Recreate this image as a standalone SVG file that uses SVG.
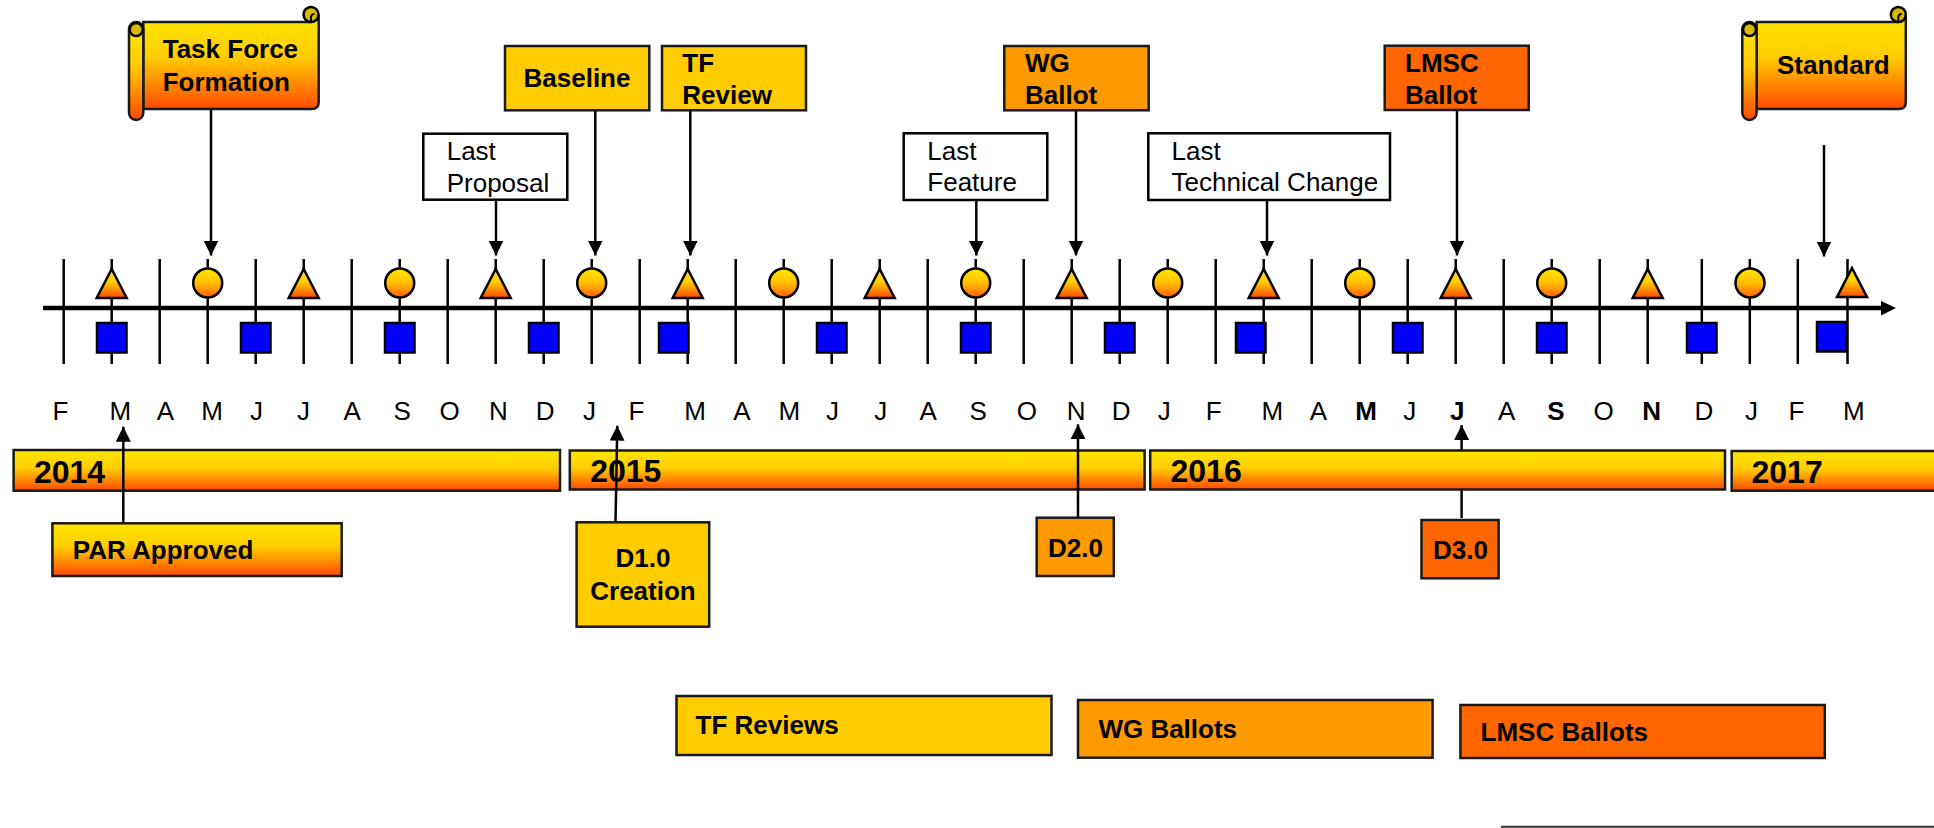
<svg xmlns="http://www.w3.org/2000/svg" xmlns:xlink="http://www.w3.org/1999/xlink" width="1934" height="828" viewBox="0 0 1934 828">
<defs>
<linearGradient id="gy" x1="0" y1="0" x2="0" y2="1">
<stop offset="0" stop-color="#FFE800"/>
<stop offset="0.45" stop-color="#FFCC00"/>
<stop offset="1" stop-color="#FF4A00"/>
</linearGradient>
<linearGradient id="gc" x1="0" y1="0" x2="0" y2="1">
<stop offset="0" stop-color="#FFE800"/>
<stop offset="0.5" stop-color="#FFC000"/>
<stop offset="1" stop-color="#FF5A00"/>
</linearGradient>
<marker id="ah" markerUnits="userSpaceOnUse" markerWidth="16" markerHeight="16" refX="15" refY="7.5" orient="auto">
<path d="M0,0 L15,7.5 L0,15 Z" fill="#000"/>
</marker>
<polygon id="tri" points="0,-14.5 15,14.5 -15,14.5" fill="url(#gy)" stroke="#000" stroke-width="2.5" stroke-linejoin="miter"/>
<circle id="cir" r="14.5" fill="url(#gc)" stroke="#000" stroke-width="2.5"/>
<rect id="sq" width="29.5" height="29.5" fill="#0000FF" stroke="#000" stroke-width="2.5"/>
</defs>
<style>
.t{font-family:"Liberation Sans",Arial,Helvetica,sans-serif;font-size:26px;fill:#000}
.b{font-weight:bold}
.yr{font-size:32px;font-weight:bold}
.box{stroke:#1a1a1a;stroke-width:2.5}
.wbox{fill:#fff;stroke:#000;stroke-width:2.5}
.c1{fill:#FFCC00}
.c2{fill:#FF9900}
.c3{fill:#FF6600}
.conn{stroke:#000;stroke-width:2.5;fill:none}
.tick{stroke:#000;stroke-width:2.5;fill:none}
.curl{fill:#D8B800;stroke:#000;stroke-width:2.5}
</style>
<rect width="1934" height="828" fill="#fff"/>

<!-- timeline axis and ticks -->
<g id="axis">
<path class="tick" d="M63.7 259V364M111.7 259V364M159.7 259V364M207.7 259V364M255.7 259V364M303.7 259V364M351.7 259V364M399.7 259V364M447.7 259V364M495.7 259V364M543.7 259V364M591.7 259V364M639.7 259V364M687.7 259V364M735.7 259V364M783.7 259V364M831.7 259V364M879.7 259V364M927.7 259V364M975.7 259V364M1023.7 259V364M1071.7 259V364M1119.7 259V364M1167.7 259V364M1215.7 259V364M1263.7 259V364M1311.7 259V364M1359.7 259V364M1407.7 259V364M1455.7 259V364M1503.7 259V364M1551.7 259V364M1599.7 259V364M1647.7 259V364M1701.8 259V364M1749.8 259V364M1797.8 259V364M1847.5 259V364"/>
<line x1="43" y1="308" x2="1882" y2="308" stroke="#000" stroke-width="4.5"/>
<polygon points="1881,301 1896,308 1881,315.5" fill="#000"/>
</g>

<g id="markers">
<use xlink:href="#tri" href="#tri" x="111.7" y="283.5"/>
<use xlink:href="#tri" href="#tri" x="303.7" y="283.5"/>
<use xlink:href="#tri" href="#tri" x="495.7" y="283.5"/>
<use xlink:href="#tri" href="#tri" x="687.7" y="283.5"/>
<use xlink:href="#tri" href="#tri" x="879.7" y="283.5"/>
<use xlink:href="#tri" href="#tri" x="1071.7" y="283.5"/>
<use xlink:href="#tri" href="#tri" x="1263.7" y="283.5"/>
<use xlink:href="#tri" href="#tri" x="1455.7" y="283.5"/>
<use xlink:href="#tri" href="#tri" x="1647.7" y="283.5"/>
<use xlink:href="#tri" href="#tri" x="1852" y="282.5"/>
<use xlink:href="#cir" href="#cir" x="207.7" y="283"/>
<use xlink:href="#cir" href="#cir" x="399.7" y="283"/>
<use xlink:href="#cir" href="#cir" x="591.7" y="283"/>
<use xlink:href="#cir" href="#cir" x="783.7" y="283"/>
<use xlink:href="#cir" href="#cir" x="975.7" y="283"/>
<use xlink:href="#cir" href="#cir" x="1167.7" y="283"/>
<use xlink:href="#cir" href="#cir" x="1359.7" y="283"/>
<use xlink:href="#cir" href="#cir" x="1551.7" y="283"/>
<use xlink:href="#cir" href="#cir" x="1750" y="283"/>
<use xlink:href="#sq" href="#sq" x="97" y="323"/>
<use xlink:href="#sq" href="#sq" x="241" y="323"/>
<use xlink:href="#sq" href="#sq" x="385" y="323"/>
<use xlink:href="#sq" href="#sq" x="529" y="323"/>
<use xlink:href="#sq" href="#sq" x="659" y="323"/>
<use xlink:href="#sq" href="#sq" x="817" y="323"/>
<use xlink:href="#sq" href="#sq" x="961" y="323"/>
<use xlink:href="#sq" href="#sq" x="1105" y="323"/>
<use xlink:href="#sq" href="#sq" x="1236" y="323"/>
<use xlink:href="#sq" href="#sq" x="1393" y="323"/>
<use xlink:href="#sq" href="#sq" x="1537" y="323"/>
<use xlink:href="#sq" href="#sq" x="1687" y="323"/>
<use xlink:href="#sq" href="#sq" x="1817" y="322"/>
</g>

<g id="months" class="t" text-anchor="middle">
<text x="60.4" y="420">F</text>
<text x="120.3" y="420">M</text>
<text x="165.3" y="420">A</text>
<text x="212.2" y="420">M</text>
<text x="256.6" y="420">J</text>
<text x="303.4" y="420">J</text>
<text x="352.1" y="420">A</text>
<text x="402.1" y="420">S</text>
<text x="449.6" y="420">O</text>
<text x="498.3" y="420">N</text>
<text x="545.2" y="420">D</text>
<text x="589.6" y="420">J</text>
<text x="636.4" y="420">F</text>
<text x="695" y="420">M</text>
<text x="741.9" y="420">A</text>
<text x="789.4" y="420">M</text>
<text x="832.6" y="420">J</text>
<text x="880.7" y="420">J</text>
<text x="928.2" y="420">A</text>
<text x="978.1" y="420">S</text>
<text x="1026.8" y="420">O</text>
<text x="1076.2" y="420">N</text>
<text x="1121.2" y="420">D</text>
<text x="1164.3" y="420">J</text>
<text x="1213.7" y="420">F</text>
<text x="1272.3" y="420">M</text>
<text x="1318.5" y="420">A</text>
<text x="1366" y="420" class="b">M</text>
<text x="1409.8" y="420">J</text>
<text x="1457.3" y="420" class="b">J</text>
<text x="1506.6" y="420">A</text>
<text x="1556" y="420" class="b">S</text>
<text x="1603.5" y="420">O</text>
<text x="1651.6" y="420" class="b">N</text>
<text x="1704" y="420">D</text>
<text x="1751.5" y="420">J</text>
<text x="1796.5" y="420">F</text>
<text x="1853.8" y="420">M</text>
</g>

<!-- connector behind 2016 bar -->
<g id="connectors">
<line class="conn" x1="211" y1="109" x2="211" y2="255.5" marker-end="url(#ah)"/>
<line class="conn" x1="496" y1="200" x2="496" y2="255.5" marker-end="url(#ah)"/>
<line class="conn" x1="595.3" y1="110" x2="595.3" y2="255.5" marker-end="url(#ah)"/>
<line class="conn" x1="690.3" y1="110" x2="690.3" y2="255.5" marker-end="url(#ah)"/>
<line class="conn" x1="976.3" y1="200" x2="976.3" y2="255.5" marker-end="url(#ah)"/>
<line class="conn" x1="1076" y1="110" x2="1076" y2="255.5" marker-end="url(#ah)"/>
<line class="conn" x1="1267" y1="200" x2="1267" y2="255.5" marker-end="url(#ah)"/>
<line class="conn" x1="1457" y1="110" x2="1457" y2="255.5" marker-end="url(#ah)"/>
<line class="conn" x1="1824" y1="145" x2="1824" y2="256.5" marker-end="url(#ah)"/>
<line class="conn" x1="1461.6" y1="518" x2="1461.6" y2="425" marker-end="url(#ah)"/>
</g>

<g id="year2014">
<rect class="box" x="13.6" y="450" width="546.4" height="40.7" fill="url(#gy)"/>
<text class="t yr" x="33.9" y="482.7">2014</text>
</g>
<g id="year2015">
<rect class="box" x="569.8" y="450.5" width="574.8" height="39" fill="url(#gy)"/>
<text class="t yr" x="590.2" y="482.3">2015</text>
</g>
<g id="year2016">
<rect class="box" x="1150.2" y="450.5" width="574.8" height="39" fill="url(#gy)"/>
<text class="t yr" x="1170.5" y="482.3">2016</text>
</g>
<g id="year2017">
<rect class="box" x="1731.7" y="451" width="206" height="39.7" fill="url(#gy)"/>
<text class="t yr" x="1751.5" y="483">2017</text>
</g>

<g id="connectors-over">
<line class="conn" x1="123.3" y1="528" x2="123.3" y2="426.7" marker-end="url(#ah)"/>
<line class="conn" x1="615.5" y1="522" x2="617.3" y2="425.7" marker-end="url(#ah)"/>
<line class="conn" x1="1078" y1="518" x2="1078" y2="424.3" marker-end="url(#ah)"/>
</g>

<g id="taskforce">
<path class="box" fill="url(#gy)" d="M143.3,22 L311,22 A7.5,7.5 0 0 0 318.7,14.5 L318.7,102 Q318.7,109 311.7,109 L143.3,109 Z"/>
<circle class="curl" cx="311" cy="14.5" r="7.5"/>
<path d="M311,22 L311,17 A3,3 0 0 1 314.5,14" fill="none" stroke="#000" stroke-width="2"/>
<rect class="box" x="129" y="22" width="14.3" height="98" rx="7.15" fill="url(#gy)"/>
<circle class="curl" cx="136.2" cy="29.5" r="6.5"/>
<path d="M136.2,36 L139,36" fill="none" stroke="#000" stroke-width="2"/>
<text class="t b" x="162.7" y="58">Task Force</text>
<text class="t b" x="162.7" y="90.7">Formation</text>
</g>

<g id="standard">
<path class="box" fill="url(#gy)" d="M1756.6,22 L1898.3,22 A7.5,7.5 0 0 0 1905.8,14.5 L1905.8,102 Q1905.8,109 1898.8,109 L1756.6,109 Z"/>
<circle class="curl" cx="1898.3" cy="14.5" r="7.5"/>
<path d="M1898.3,22 L1898.3,17 A3,3 0 0 1 1901.8,14" fill="none" stroke="#000" stroke-width="2"/>
<rect class="box" x="1742.3" y="22" width="14.3" height="98" rx="7.15" fill="url(#gy)"/>
<circle class="curl" cx="1749.5" cy="29.5" r="6.5"/>
<path d="M1749.5,36 L1752.3,36" fill="none" stroke="#000" stroke-width="2"/>
<text class="t b" x="1777" y="74">Standard</text>
</g>

<g id="baseline">
<rect class="box c1" x="505" y="46" width="144.3" height="64.3"/>
<text class="t b" x="577" y="87.3" text-anchor="middle">Baseline</text>
</g>
<g id="tfreview">
<rect class="box c1" x="662" y="46" width="144" height="64.3"/>
<text class="t b" x="682.3" y="72.3">TF</text>
<text class="t b" x="682.3" y="104">Review</text>
</g>
<g id="wgballot">
<rect class="box c2" x="1004.3" y="46" width="144.4" height="64.3"/>
<text class="t b" x="1025" y="72.3">WG</text>
<text class="t b" x="1025" y="104">Ballot</text>
</g>
<g id="lmscballot">
<rect class="box c3" x="1384.7" y="45.7" width="144" height="64.3"/>
<text class="t b" x="1405" y="72.3">LMSC</text>
<text class="t b" x="1405" y="103.5">Ballot</text>
</g>

<g id="lastproposal">
<rect class="wbox" x="423.3" y="133.7" width="144" height="66"/>
<text class="t" x="446.7" y="160">Last</text>
<text class="t" x="446.7" y="191.7">Proposal</text>
</g>
<g id="lastfeature">
<rect class="wbox" x="903.7" y="133.3" width="143.6" height="66.7"/>
<text class="t" x="927.3" y="159.5">Last</text>
<text class="t" x="927.3" y="191">Feature</text>
</g>
<g id="lasttech">
<rect class="wbox" x="1148.3" y="133.3" width="241.7" height="66.7"/>
<text class="t" x="1171.5" y="159.5">Last</text>
<text class="t" x="1171.5" y="191">Technical Change</text>
</g>

<g id="parapproved">
<rect class="box" x="52.4" y="523.3" width="289.3" height="52.7" fill="url(#gy)"/>
<text class="t b" x="72.8" y="558.7">PAR Approved</text>
</g>
<g id="d10">
<rect class="box c1" x="576.6" y="522.3" width="132.6" height="104.4"/>
<text class="t b" x="643" y="567.3" text-anchor="middle">D1.0</text>
<text class="t b" x="643" y="600" text-anchor="middle">Creation</text>
</g>
<g id="d20">
<rect class="box c2" x="1036.7" y="517.7" width="77.1" height="58.3"/>
<text class="t b" x="1075.5" y="556.7" text-anchor="middle">D2.0</text>
</g>
<g id="d30">
<rect class="box c3" x="1421.5" y="520" width="77.1" height="58.3"/>
<text class="t b" x="1460.5" y="559" text-anchor="middle">D3.0</text>
</g>

<g id="tfreviews">
<rect class="box c1" x="676.5" y="696" width="375" height="59"/>
<text class="t b" x="695.6" y="734">TF Reviews</text>
</g>
<g id="wgballots">
<rect class="box c2" x="1078" y="700" width="354.6" height="57.7"/>
<text class="t b" x="1098.4" y="738.3">WG Ballots</text>
</g>
<g id="lmscballots">
<rect class="box c3" x="1460.4" y="705" width="364.4" height="53"/>
<text class="t b" x="1480.5" y="740.5">LMSC Ballots</text>
</g>

<line x1="1501" y1="826.7" x2="1934" y2="826.7" stroke="#333" stroke-width="2"/>
</svg>
